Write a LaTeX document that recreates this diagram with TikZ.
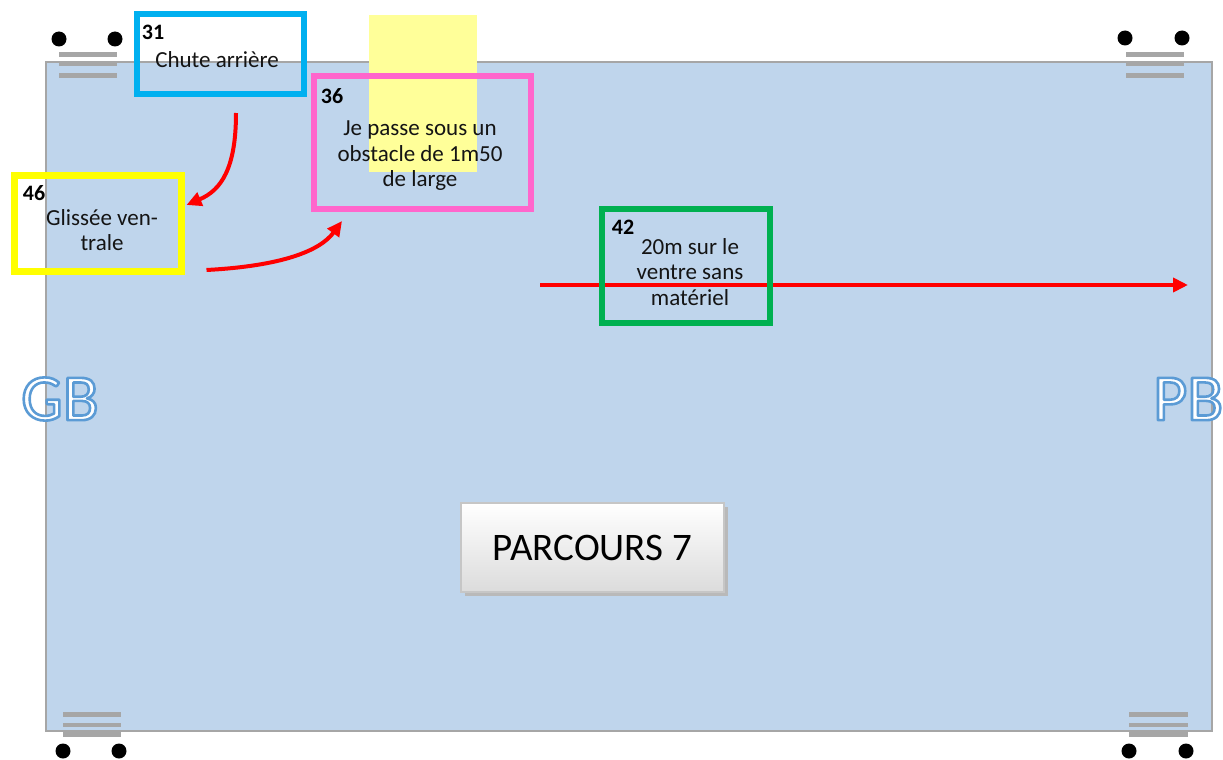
\documentclass[tikz,border=0pt]{standalone}
\usepackage{fontspec}
\setmainfont{Carlito}
\usetikzlibrary{arrows.meta,calc}
\definecolor{poolfill}{RGB}{191,213,236}
\definecolor{poolline}{RGB}{166,166,166}
\definecolor{c31}{RGB}{0,176,240}
\definecolor{c36}{RGB}{255,102,204}
\definecolor{c46}{RGB}{255,255,0}
\definecolor{c42}{RGB}{0,176,80}
\definecolor{sticky}{RGB}{255,255,153}
\definecolor{gbblue}{RGB}{91,155,213}
\definecolor{arrowred}{RGB}{255,0,0}
\definecolor{txt}{RGB}{20,20,20}
\newcommand\outlinedword[1]{\special{pdf:literal direct 0.357 0.608 0.835 RG 1 1 1 rg 2.6 w 1 j 2 Tr}#1\special{pdf:literal direct 0 Tr}}
\tikzset{
  bar/.style={fill=poolline, draw=none},
  dot/.style={fill=black, draw=none},
  taskbox/.style={draw, line width=6pt, fill=none, inner sep=0pt},
  num/.style={font=\fontsize{22}{24}\selectfont\bfseries, text=black, inner sep=0pt},
  body/.style={font=\fontsize{23}{25.5}\selectfont, text=txt, align=center, inner sep=0pt},
  route/.style={draw=arrowred, line width=4pt, -{Triangle[length=15pt,width=14pt]}},
  bigletter/.style={font=\fontsize{66}{70}\selectfont, inner sep=0pt, anchor=west},
}
\begin{document}
\begin{tikzpicture}[x=1pt,y=-1pt]
\useasboundingbox (0,0) rectangle (1223,760);
% pool
\draw[fill=poolfill, draw=poolline, line width=2.5pt] (46,62) rectangle (1212,731);
% sticky note
\fill[sticky] (369,15) rectangle (477,172);
% ladders
\foreach \ya/\yb in {52/57,62/66.5,73.5/78}{
  \fill[bar] (59,\ya) rectangle (117,\yb);
  \fill[bar] (1126,\ya) rectangle (1184,\yb);
}
\foreach \ya/\yb in {712/717,722.5/727,732/737}{
  \fill[bar] (63,\ya) rectangle (121,\yb);
  \fill[bar] (1129,\ya) rectangle (1188,\yb);
}
\foreach \x/\y in {59/39,115/39,1125/38,1182/38,63/751,119/751,1129/751,1186/751}{
  \fill[dot] (\x,\y) circle (7.5);
}
% GB / PB
\node[bigletter] (gb) at (21,399) {\outlinedword{GB}};
\node[bigletter] (pb) at (1153,399) {\outlinedword{PB}};
% task boxes
\node[taskbox, draw=c31, minimum width=167, minimum height=80] (b31) at (220.5,54) {};
\node[num] (n31) at (153,32) {31};
\node[body] (t31) at (217,60) {Chute arrière};

\node[taskbox, draw=c36, minimum width=217, minimum height=133] (b36) at (422.5,142.5) {};
\node[num] (n36) at (332,96) {36};
\node[body] (t36) at (420,156) {Je passe sous un\\obstacle de 1m50\\de large};

\node[taskbox, draw=c46, line width=7pt, minimum width=167, minimum height=96] (b46) at (97.5,223) {};
\node[num] (n46) at (34,193) {46};
\node[body] (t46) at (102,230) {Glissée ven-\\trale};

% route arrows
\coordinate (s1) at ($(b31.south)+(15.5,16)$);
\coordinate (e1) at ($(b46.east)+(2,-18)$);
\draw[route] (s1) .. controls ($(s1)+(0,55)$) and ($(e1)+(35,-15)$) .. (e1);
\coordinate (s2) at ($(b46.east)+(22,47)$);
\coordinate (e2) at ($(b36.south west)+(31,9)$);
\draw[route] (s2) .. controls ($(s2)+(75,-4)$) and ($(e2)+(-22,30)$) .. (e2);
\coordinate (s3) at (540,285);
\coordinate (e3) at (1188,285);
\draw[route] (s3) -- (e3);

\node[taskbox, draw=c42, minimum width=168, minimum height=114] (b42) at (686,266) {};
\node[num] (n42) at (623,227) {42};
\node[body] (t42) at (690,272) {20m sur le\\ventre sans\\matériel};

% title button
\fill[gray!55] (465,507) rectangle (728,596);
\node[draw=gray!45, line width=2pt, top color=white, bottom color=gray!28, minimum width=263, minimum height=89, inner sep=0pt] (btn) at (592.5,547.5) {};
\node[font=\fontsize{39}{41}\selectfont, text=black, inner sep=0pt] (title) at (btn.center) {PARCOURS 7};
\end{tikzpicture}
\end{document}
